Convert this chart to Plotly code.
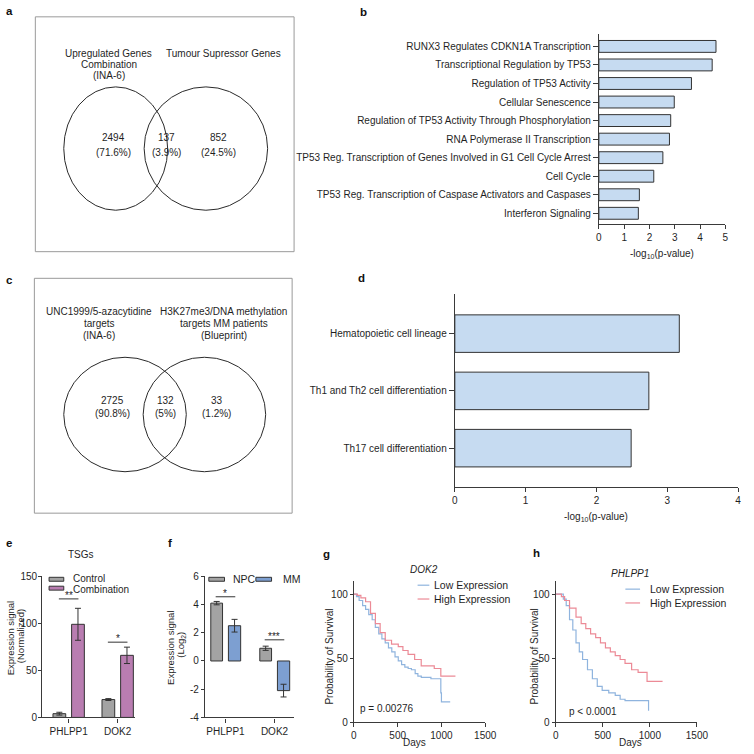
import plotly.graph_objects as go

W = H = 754
FONT = "Liberation Sans, Arial, sans-serif"
INK = "#1f1f1f"
AXC = "#3a3a3a"

# ---------------- data ----------------
venn_a_left = ["Upregulated Genes", "Combination", "(INA-6)"]
venn_a_right = ["Tumour Supressor Genes"]
venn_a_counts = [2494, 137, 852]
venn_a_pcts = ["71.6%", "3.9%", "24.5%"]

venn_c_left = ["UNC1999/5-azacytidine", "targets", "(INA-6)"]
venn_c_right = ["H3K27me3/DNA methylation", "targets MM patients", "(Blueprint)"]
venn_c_counts = [2725, 132, 33]
venn_c_pcts = ["90.8%", "5%", "1.2%"]

b_terms = [
    "RUNX3 Regulates CDKN1A Transcription",
    "Transcriptional Regulation by TP53",
    "Regulation of TP53 Activity",
    "Cellular Senescence",
    "Regulation of TP53 Activity Through Phosphorylation",
    "RNA Polymerase II Transcription",
    "TP53 Reg. Transcription of Genes Involved in G1 Cell Cycle Arrest",
    "Cell Cycle",
    "TP53 Reg. Transcription of Caspase Activators and Caspases",
    "Interferon Signaling",
]
b_values = [4.63, 4.48, 3.66, 2.98, 2.84, 2.79, 2.53, 2.17, 1.60, 1.56]

d_terms = ["Hematopoietic cell lineage", "Th1 and Th2 cell differentiation", "Th17 cell differentiation"]
d_values = [3.17, 2.74, 2.49]

e_genes = ["PHLPP1", "DOK2"]
e_control = [4, 19]
e_control_err = [1.5, 1.0]
e_comb = [99, 66]
e_comb_err = [17, 8.7]
e_sig = ["**", "*"]
e_sig_level = [126, 80]

f_genes = ["PHLPP1", "DOK2"]
f_npc = [4.1, 0.9]
f_npc_err = [0.12, 0.15]
f_mm = [2.5, -2.1]
f_mm_err = [0.45, 0.45]
f_sig = ["*", "***"]
f_sig_level = [4.55, 1.5]

g_low_days = [0, 30, 60, 100, 134, 170, 209, 245, 284, 320, 358, 395, 433, 470, 507, 545, 582, 620, 657, 700, 731, 770, 806, 880, 993, 1000, 1100]
g_low_pct = [100, 98, 95, 91, 88, 84, 80, 74, 69, 65, 62, 58, 55, 51, 48, 45, 43, 42, 41, 38, 36, 35, 35, 34, 23, 16, 16]
g_high_days = [0, 40, 80, 134, 190, 246, 300, 358, 430, 507, 560, 619, 694, 769, 918, 993, 1160]
g_high_pct = [100, 99, 97, 94, 85, 77, 70, 64, 61, 59, 56, 53, 49, 44, 42, 36, 36]

h_low_days = [0, 80, 111, 146, 181, 215, 250, 285, 337, 389, 441, 493, 563, 632, 684, 736, 980, 986]
h_low_pct = [100, 96, 91, 80, 72, 62, 55, 49, 41, 34, 28, 25, 23, 21, 18, 17, 17, 9]
h_high_days = [0, 60, 94, 146, 215, 270, 319, 370, 424, 475, 528, 580, 632, 684, 736, 806, 875, 970, 1135]
h_high_pct = [100, 98, 95, 89, 82, 77, 73, 69, 66, 62, 58, 55, 52, 49, 46, 41, 39, 32, 32]

# ---------------- helpers ----------------
def xd(a, b):
    return [a / W, b / W]

def yd(top, bottom):
    return [1 - bottom / H, 1 - top / H]

def PX(x):
    return x / W

def PY(y):
    return 1 - y / H

annotations = []
shapes = []

def note(text, x, y, size=10, xanchor="center", yanchor="middle", angle=0,
         xref="paper", yref="paper", color=INK, bold=False, italic=False):
    if bold:
        text = "<b>" + text + "</b>"
    if italic:
        text = "<i>" + text + "</i>"
    if xref == "paper":
        x = PX(x)
    if yref == "paper":
        y = PY(y)
    annotations.append(dict(text=text, x=x, y=y, xref=xref, yref=yref, showarrow=False,
                            xanchor=xanchor, yanchor=yanchor, textangle=angle,
                            font=dict(family=FONT, size=size, color=color)))

def pshape(**kw):
    d = dict(xref="paper", yref="paper")
    d.update(kw)
    for k in ("x0", "x1"):
        if k in d and d["xref"] == "paper":
            d[k] = PX(d[k])
    for k in ("y0", "y1"):
        if k in d and d["yref"] == "paper":
            d[k] = PY(d[k])
    shapes.append(d)

common = dict(showgrid=False, zeroline=False, showline=True, linecolor=AXC, linewidth=1.2,
              ticks="outside", ticklen=4, tickwidth=1.2, tickcolor=AXC,
              tickfont=dict(family=FONT, size=10, color=INK))

layout = dict(width=W, height=H, margin=dict(l=0, r=0, t=0, b=0), autosize=False,
              paper_bgcolor="white", plot_bgcolor="white", showlegend=False,
              font=dict(family=FONT, size=10, color=INK), barmode="overlay")

fig = go.Figure()

# ---------------- Venn panels (a, c) ----------------
def venn(idx, box, left_c, right_c, left_lines, right_lines, lab_y, lab_x, counts, pcts, num_x, num_y):
    xa = "xaxis" if idx == 1 else "xaxis%d" % idx
    ya = "yaxis" if idx == 1 else "yaxis%d" % idx
    xr = "x" if idx == 1 else "x%d" % idx
    yr = "y" if idx == 1 else "y%d" % idx
    x0, y0, x1, y1 = box
    layout[xa] = dict(domain=xd(x0, x1), range=[x0, x1], visible=False, anchor=yr, fixedrange=True)
    layout[ya] = dict(domain=yd(y0, y1), range=[y1, y0], visible=False, anchor=xr, fixedrange=True)
    fig.add_trace(go.Scatter(x=[x0], y=[y0], mode="markers", marker=dict(opacity=0), xaxis=xr, yaxis=yr, hoverinfo="skip"))
    shapes.append(dict(type="rect", xref=xr + " domain", yref=yr + " domain", x0=0, x1=1, y0=0, y1=1,
                       line=dict(color="#9a9a9a", width=1)))
    for c in (left_c, right_c):
        shapes.append(dict(type="circle", xref=xr, yref=yr, x0=c[0], y0=c[1], x1=c[2], y1=c[3],
                           line=dict(color="#2a2a2a", width=1)))
    for i, t in enumerate(left_lines):
        note(t, lab_x[0], lab_y[i], xref=xr, yref=yr)
    for i, t in enumerate(right_lines):
        note(t, lab_x[1], lab_y[i], xref=xr, yref=yr)
    for k in range(3):
        note(str(counts[k]), num_x[k], num_y[0], xref=xr, yref=yr)
        note("(" + pcts[k] + ")", num_x[k], num_y[1], xref=xr, yref=yr)

venn(1, (33, 12, 297, 250), (62, 83, 168, 208), (144, 83, 270, 208),
     venn_a_left, venn_a_right, [49, 60, 71], [108, 225], venn_a_counts, venn_a_pcts,
     [113, 167, 220], [134, 149])
venn(3, (32, 277, 295, 515), (62, 357, 187, 473), (143, 357, 268, 473),
     venn_c_left, venn_c_right, [311, 323, 335], [98, 225], venn_c_counts, venn_c_pcts,
     [112, 166, 218], [401, 414])

# ---------------- panel b ----------------
BAR_FILL = "#c6dbf1"
fig.add_trace(go.Bar(x=b_values, y=b_terms, orientation="h", width=0.64,
                     marker=dict(color=BAR_FILL, line=dict(color="#333333", width=1)),
                     xaxis="x2", yaxis="y2"))
layout["xaxis2"] = dict(common, domain=xd(608, 737), range=[0, 5], tickvals=[0, 1, 2, 3, 4, 5], anchor="y2")
layout["yaxis2"] = dict(common, domain=yd(29, 222), type="category", range=[9.58, -0.69], anchor="x2", ticklen=5)
note("-log<sub>10</sub>(p-value)", 672, 252)

# ---------------- panel d ----------------
fig.add_trace(go.Bar(x=d_values, y=d_terms, orientation="h", width=0.655,
                     marker=dict(color=BAR_FILL, line=dict(color="#333333", width=1)),
                     xaxis="x4", yaxis="y4"))
layout["xaxis4"] = dict(common, domain=xd(461, 750), range=[0, 4], tickvals=[0, 1, 2, 3, 4], anchor="y4")
layout["yaxis4"] = dict(common, domain=yd(293, 488), type="category", range=[2.67, -0.69], anchor="x4", ticklen=5)
note("-log<sub>10</sub>(p-value)", 605, 519)

# ---------------- panel e ----------------
GREY = "#a3a3a3"
PURPLE = "#b97db1"
BLUE = "#7d9fd1"
pos = [0, 1]
fig.add_trace(go.Bar(x=pos, y=e_control, offset=-0.32, width=0.26,
                     marker=dict(color=GREY, line=dict(color="#333333", width=1)),
                     error_y=dict(type="data", array=e_control_err, color="#333333", thickness=1, width=3),
                     xaxis="x5", yaxis="y5"))
fig.add_trace(go.Bar(x=pos, y=e_comb, offset=0.06, width=0.26,
                     marker=dict(color=PURPLE, line=dict(color="#333333", width=1)),
                     error_y=dict(type="data", array=e_comb_err, color="#333333", thickness=1, width=3),
                     xaxis="x5", yaxis="y5"))
layout["xaxis5"] = dict(common, domain=xd(40, 135), range=[-0.54, 1.36], tickvals=pos, ticktext=e_genes, anchor="y5")
layout["yaxis5"] = dict(common, domain=yd(579, 722), range=[0, 150], tickvals=[0, 50, 100, 150], anchor="x5",
                        ticklen=3, ticklabelstandoff=-1)
for i, p in enumerate(pos):
    shapes.append(dict(type="line", xref="x5", yref="y5", x0=p - 0.2, x1=p + 0.2, y0=e_sig_level[i], y1=e_sig_level[i],
                       line=dict(color="#333333", width=1)))
    annotations.append(dict(text=e_sig[i], x=p, y=e_sig_level[i], xref="x5", yref="y5", showarrow=False,
                            yanchor="bottom", yshift=-4, font=dict(family=FONT, size=10, color=INK)))
note("TSGs", 80, 557)
pshape(type="rect", x0=47, x1=62, y0=580, y1=584, fillcolor=GREY, line=dict(color="#333333", width=1))
pshape(type="rect", x0=47, x1=62, y0=589, y1=593, fillcolor=PURPLE, line=dict(color="#333333", width=1))
note("Control", 69, 581.5, size=10, xanchor="left")
note("Combination", 69, 592, size=10, xanchor="left")
note("Expression signal", 8, 642, angle=-90, size=9.5)
note("(Normalized)", 18, 640, angle=-90, size=9.5)

# ---------------- panel f ----------------
fig.add_trace(go.Bar(x=pos, y=f_npc, offset=-0.3, width=0.24,
                     marker=dict(color=GREY, line=dict(color="#333333", width=1)),
                     error_y=dict(type="data", array=f_npc_err, color="#333333", thickness=1, width=3),
                     xaxis="x6", yaxis="y6"))
fig.add_trace(go.Bar(x=pos, y=f_mm, offset=0.06, width=0.25,
                     marker=dict(color=BLUE, line=dict(color="#333333", width=1)),
                     error_y=dict(type="data", array=f_mm_err, color="#333333", thickness=1, width=3),
                     xaxis="x6", yaxis="y6"))
f_ticks = [-4, -2, 0, 2, 4, 6]
layout["xaxis6"] = dict(common, domain=xd(206, 297), range=[-0.42, 1.4], tickvals=pos, ticktext=f_genes, anchor="y6")
layout["yaxis6"] = dict(common, domain=yd(579, 722), range=[-4, 6], tickvals=f_ticks,
                        ticktext=[str(t) for t in f_ticks], anchor="x6", ticklen=3)
for i, p in enumerate(pos):
    shapes.append(dict(type="line", xref="x6", yref="y6", x0=p - 0.2, x1=p + 0.2, y0=f_sig_level[i], y1=f_sig_level[i],
                       line=dict(color="#333333", width=1)))
    annotations.append(dict(text=f_sig[i], x=p, y=f_sig_level[i], xref="x6", yref="y6", showarrow=False,
                            yanchor="bottom", yshift=-4, font=dict(family=FONT, size=10, color=INK)))
pshape(type="rect", x0=210, x1=226, y0=580, y1=584, fillcolor=GREY, line=dict(color="#333333", width=1))
pshape(type="rect", x0=258, x1=274, y0=580, y1=584, fillcolor=BLUE, line=dict(color="#333333", width=1))
note("NPC", 233, 582, size=10.5, xanchor="left")
note("MM", 284, 582, size=10.5, xanchor="left")
note("Expression signal", 171, 652, angle=-90, size=9.5)
note("(Log<sub>2</sub>)", 182, 648, angle=-90, size=9.5)

# ---------------- panels g, h (Kaplan-Meier) ----------------
KM_BLUE = "#8fb4de"
KM_RED = "#ec8a96"

def km(idx, xdom, low_d, low_p, high_d, high_p):
    xr, yr = "x%d" % idx, "y%d" % idx
    fig.add_trace(go.Scatter(x=low_d, y=low_p, mode="lines", line=dict(shape="hv", color=KM_BLUE, width=1.2),
                             xaxis=xr, yaxis=yr))
    fig.add_trace(go.Scatter(x=high_d, y=high_p, mode="lines", line=dict(shape="hv", color=KM_RED, width=1.2),
                             xaxis=xr, yaxis=yr))
    layout["xaxis%d" % idx] = dict(common, domain=xd(*xdom), range=[0, 1500], tickvals=[0, 500, 1000, 1500], anchor=yr)
    layout["yaxis%d" % idx] = dict(common, domain=yd(584, 727), range=[0, 110], tickvals=[0, 50, 100], anchor=xr, ticklen=3)

km(7, (358, 492), g_low_days, g_low_pct, g_high_days, g_high_pct)
km(8, (564, 708), h_low_days, h_low_pct, h_high_days, h_high_pct)

note("Probability of Survival", 333, 660, angle=-90)
note("Probability of Survival", 542, 660, angle=-90)
note("Days", 420, 747)
note("Days", 640, 747)
note("p = 0.00276", 362, 713, xanchor="left")
note("p < 0.0001", 575, 716, xanchor="left")

note("DOK2", 413, 572, xanchor="left", italic=True)
pshape(type="line", x0=423, x1=435, y0=588, y1=588, line=dict(color=KM_BLUE, width=1.2))
pshape(type="line", x0=423, x1=435, y0=602, y1=602, line=dict(color=KM_RED, width=1.2))
note("Low Expression", 438, 588, size=10.5, xanchor="left")
note("High Expression", 438, 602, size=10.5, xanchor="left")

note("PHLPP1", 618, 576, xanchor="left", italic=True)
pshape(type="line", x0=635, x1=650, y0=592, y1=592, line=dict(color=KM_BLUE, width=1.2))
pshape(type="line", x0=635, x1=650, y0=606, y1=606, line=dict(color=KM_RED, width=1.2))
note("Low Expression", 658, 592, size=10.5, xanchor="left")
note("High Expression", 658, 606, size=10.5, xanchor="left")

# ---------------- panel letters ----------------
for letter, x, y in [("a", 1, 6), ("b", 362, 7), ("c", 1, 279), ("d", 360, 277),
                     ("e", 1, 545), ("f", 166, 545), ("g", 324, 556), ("h", 539, 555)]:
    note(letter, x, y, size=11.5, xanchor="left", bold=True, color="#111111")

layout["annotations"] = annotations
layout["shapes"] = shapes
fig.update_layout(**layout)
fig.write_html("out.html", config={"displayModeBar": False},
               post_script="document.body.style.margin='0';document.body.style.overflow='hidden';")
